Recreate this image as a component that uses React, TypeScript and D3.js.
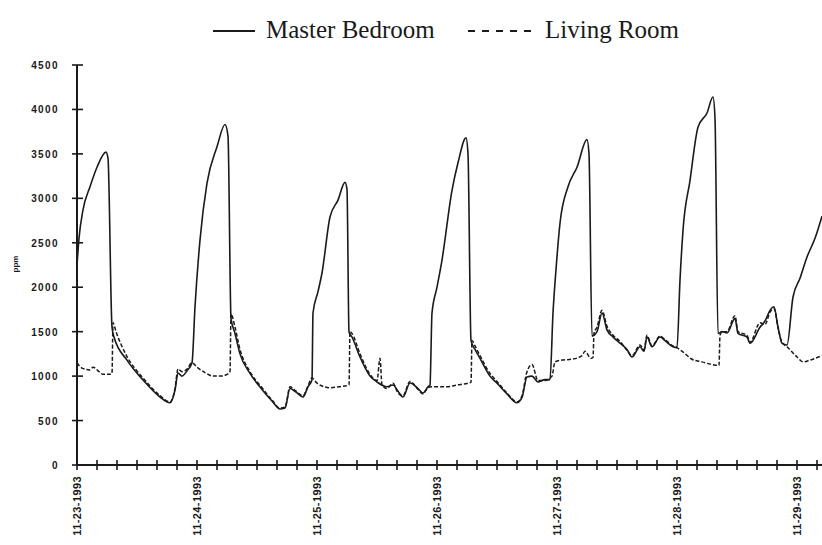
import React, { useRef, useEffect } from 'react'
import * as d3 from 'd3'

// hours since 11-23-1993 00:00
const bedroomHours = [0, 0.4, 1.2, 2.6, 4, 5.8, 6.2, 7, 7.4, 10, 13.2, 16.6, 18.6, 19.6, 20.2, 21, 22, 23,
  23.6, 24.6, 26, 28, 29.6, 30.2, 30.8, 31.6, 32.6, 34.6, 37, 39, 40.6, 41.6, 42.6, 43.8, 45.2, 46.2, 47,
  47.2, 48.2, 49, 50.6, 52.2, 53.6, 54, 54.4, 55, 56.6, 58.6, 60, 62, 63.2, 64.2, 65.2, 66.6, 68.2, 69.2, 70.2, 70.6,
  71, 72, 73, 75, 76.2, 77.8, 78.2, 78.8, 79.6, 80.6, 82.6, 84, 86, 88, 89, 90, 91, 92.2, 93.6, 94.6,
  95.2, 95.8, 96.6, 98.2, 100, 102, 102.4, 103, 104, 105, 106, 107.2, 108.6, 110, 111, 112.6, 113.4, 114, 115, 116.6, 117.6, 119.2, 120,
  120.6, 121.2, 122.6, 124.2, 126, 127.2, 127.6, 128.2, 129, 130, 131.6, 132.2, 134, 134.6, 136.6, 137.6, 138.6, 139.4, 140.2, 141, 142,
  143.2, 144.6, 146, 147.6, 149]
const bedroomPpm = [2250, 2550, 2870, 3130, 3350, 3520, 3450, 1550, 1440, 1180, 956, 765, 700, 844, 1035, 1000, 1060, 1150,
  1780, 2530, 3170, 3580, 3830, 3700, 1650, 1480, 1250, 1030, 850, 720, 630, 640, 860, 820, 765, 880, 960,
  1710, 1950, 2160, 2790, 2980, 3180, 3100, 1500, 1440, 1215, 1000, 934, 880, 900, 830, 765, 922, 860, 810, 880, 900,
  1710, 2000, 2306, 3090, 3400, 3680, 3500, 1400, 1300, 1200, 1000, 920, 800, 700, 760, 990, 1000, 934, 960, 960,
  1710, 2200, 2720, 3130, 3350, 3660, 3500, 1450, 1500, 1710, 1520, 1440, 1370, 1300, 1215, 1330, 1280, 1440, 1330, 1440, 1400, 1330, 1320,
  2080, 2640, 3200, 3800, 3960, 4140, 3900, 1480, 1500, 1485, 1650, 1480, 1440, 1370, 1550, 1620, 1740, 1780, 1550, 1370, 1350,
  1890, 2100, 2340, 2550, 2800]

const livingHours = [0, 1, 2.6, 3.2, 4.4, 5.2, 6.6, 7, 7.2, 7.8, 10, 13.2, 16.6, 18.6, 19.6, 20.2, 21, 22, 23,
  24, 25.6, 27.2, 28.8, 30, 30.6, 30.8, 31.6, 32.6, 34.6, 37, 39, 40.6, 41.6, 42.6, 43.8, 45.2, 46.2, 47,
  48, 50.6, 52.4, 54.4, 54.6, 55, 56.6, 58.6, 60, 60.6, 61, 62, 63.2, 64.2, 65.2, 66.6, 68.2, 69.2, 70.2,
  71, 74, 76, 78.2, 78.8, 79, 79.6, 80.6, 82.6, 84, 86, 88, 89, 90, 91, 92.2, 93.6, 95,
  95.6, 97, 99, 101, 101.6, 102.8, 103.2, 103.4, 104, 105, 106, 107.2, 108.6, 110, 111, 112.6, 113.4, 114, 115, 116.6, 117.6, 119.2, 120,
  121, 123, 125, 127, 128.4, 128.6, 129, 130, 131.6, 132.2, 134, 134.6, 136.6, 137.6, 138.6, 139.4, 140.2, 141, 142,
  144, 145.2, 146.6, 149]
const livingPpm = [1150, 1090, 1070, 1100, 1050, 1020, 1020, 1030, 1600, 1500, 1220, 980, 780, 710, 860, 1080, 1050, 1080, 1150,
  1100, 1040, 1000, 1000, 1020, 1050, 1700, 1550, 1300, 1050, 870, 730, 640, 650, 880, 830, 780, 890, 980,
  920, 870, 880, 900, 1500, 1480, 1250, 1020, 950, 1200, 900, 860, 920, 810, 780, 940, 850, 800, 870,
  880, 880, 900, 920, 930, 1400, 1340, 1230, 1030, 940, 810, 710, 780, 1050, 1130, 950, 950, 1000,
  1160, 1180, 1190, 1230, 1280, 1200, 1210, 1480, 1550, 1740, 1560, 1460, 1390, 1290, 1230, 1350, 1300, 1460, 1340, 1450, 1410, 1340, 1320,
  1280, 1190, 1160, 1130, 1120, 1460, 1500, 1500, 1680, 1500, 1460, 1380, 1600, 1580, 1720, 1760, 1550, 1380, 1330,
  1215, 1160, 1180, 1230]

const dayLabels = ['11-23-1993', '11-24-1993', '11-25-1993', '11-26-1993', '11-27-1993', '11-28-1993', '11-29-1993']
const yTicks = [0, 500, 1000, 1500, 2000, 2500, 3000, 3500, 4000, 4500]

const App = () => {
  const svgRef = useRef(null)

  useEffect(() => {
    const svg = d3.select(svgRef.current)
    svg.selectAll('*').remove()

    const x = d3.scaleLinear().domain([0, 149]).range([77, 822])
    const y = d3.scaleLinear().domain([0, 4500]).range([465, 65])
    const ink = '#1a1a1a'

    svg.append('clipPath').attr('id', 'plot')
      .append('rect').attr('x', 77).attr('y', 40).attr('width', 745).attr('height', 430)

    // y axis with crossing ticks
    svg.append('line').attr('x1', 77).attr('x2', 77).attr('y1', y(4500)).attr('y2', y(0))
      .attr('stroke', ink).attr('stroke-width', 2)
    svg.selectAll('.ytick').data(yTicks).join('line')
      .attr('x1', 72).attr('x2', 83).attr('y1', d => y(d)).attr('y2', d => y(d))
      .attr('stroke', ink).attr('stroke-width', 1.6)
    svg.selectAll('.ylab').data(yTicks).join('text')
      .attr('x', 59).attr('y', d => y(d) + 4)
      .attr('text-anchor', 'end')
      .attr('font-family', 'Liberation Sans, Arial, sans-serif')
      .attr('font-size', 10).attr('font-weight', 700).attr('letter-spacing', 1.4)
      .attr('fill', ink)
      .text(d => d)
    svg.append('text')
      .attr('transform', 'translate(18,264) rotate(-90)')
      .attr('text-anchor', 'middle')
      .attr('font-family', 'Liberation Sans, Arial, sans-serif')
      .attr('font-size', 8).attr('font-weight', 700).attr('fill', ink)
      .text('ppm')

    // x axis, tick every 4 hours
    const xTicks = d3.range(0, 150, 4)
    svg.append('line').attr('x1', 77).attr('x2', 822).attr('y1', 465).attr('y2', 465)
      .attr('stroke', ink).attr('stroke-width', 2)
    svg.selectAll('.xtick').data(xTicks).join('line')
      .attr('x1', d => x(d)).attr('x2', d => x(d)).attr('y1', 460).attr('y2', 470)
      .attr('stroke', ink).attr('stroke-width', 1.6)
    svg.selectAll('.xlab').data(dayLabels).join('text')
      .attr('transform', (d, i) => `translate(${x(i * 24) + 4},476) rotate(-90)`)
      .attr('text-anchor', 'end')
      .attr('font-family', 'Liberation Sans, Arial, sans-serif')
      .attr('font-size', 11).attr('font-weight', 700).attr('letter-spacing', 0.4)
      .attr('fill', ink)
      .text(d => d)

    const bedroom = bedroomHours.map((h, i) => [h, bedroomPpm[i]])
    const living = livingHours.map((h, i) => [h, livingPpm[i]])
    const path = d3.line().x(d => x(d[0])).y(d => y(d[1])).curve(d3.curveMonotoneX)

    const g = svg.append('g').attr('clip-path', 'url(#plot)')
    g.append('path').attr('d', path(living)).attr('fill', 'none')
      .attr('stroke', ink).attr('stroke-width', 1.5).attr('stroke-dasharray', '4 2')
    g.append('path').attr('d', path(bedroom)).attr('fill', 'none')
      .attr('stroke', ink).attr('stroke-width', 1.6).attr('stroke-linejoin', 'round')

    // legend
    const lg = svg.append('g')
    lg.append('line').attr('x1', 213).attr('x2', 255).attr('y1', 31).attr('y2', 31)
      .attr('stroke', ink).attr('stroke-width', 2)
    lg.append('text').attr('x', 266).attr('y', 38)
      .attr('font-family', 'Liberation Serif, Times New Roman, serif').attr('font-size', 25)
      .attr('fill', ink).text('Master Bedroom')
    lg.append('line').attr('x1', 468).attr('x2', 533).attr('y1', 31).attr('y2', 31)
      .attr('stroke', ink).attr('stroke-width', 2).attr('stroke-dasharray', '7 7')
    lg.append('text').attr('x', 545).attr('y', 38)
      .attr('font-family', 'Liberation Serif, Times New Roman, serif').attr('font-size', 25)
      .attr('fill', ink).text('Living Room')
  }, [])

  return (
    <svg ref={svgRef} width={822} height={545}
      style={{ position: 'absolute', left: 0, top: 0, background: '#fff' }} />
  )
}

export default App
